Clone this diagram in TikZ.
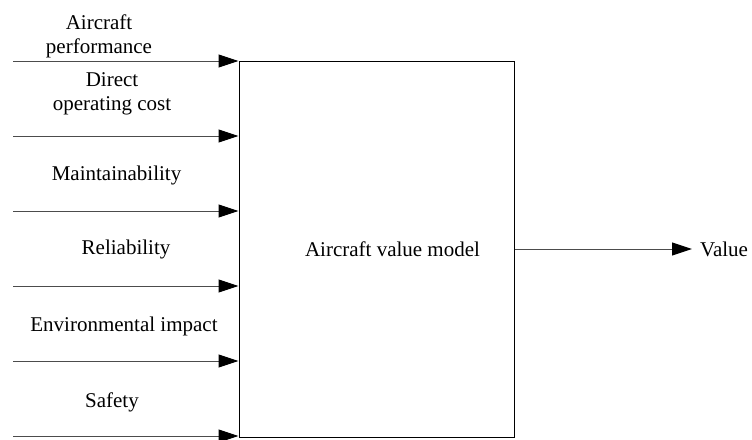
\documentclass[tikz,border=0pt]{standalone}
\usepackage{fontspec}
\setmainfont{Liberation Serif}
\usetikzlibrary{arrows.meta}
\tikzset{
	flow/.style={draw=black!70, line width=1pt, -{Triangle[length=20pt, width=13pt, color=black]}},
	lbl/.style={font=\fontsize{21}{24}\selectfont, align=center, inner sep=0pt},
}

\begin{document}
\begin{tikzpicture}[x=1pt, y=-1pt]
				\useasboundingbox (0,0) rectangle (752,439);
				\node[draw, line width=1pt, minimum width=275pt, minimum height=376pt, inner sep=0pt, label={[lbl, xshift=16pt]center:Aircraft value model}] (model)at(376.5, 249) {};
				\coordinate (perfin)at(13, 61);
				\coordinate (docin)at(13, 136);
				\coordinate (maintin)at(13, 211);
				\coordinate (relin)at(13, 286);
				\coordinate (envin)at(13, 361);
				\coordinate (safein)at(13, 436);
				\node[lbl, anchor=base] (perf)at(99, 53) {Aircraft\\performance};
				\node[lbl, anchor=base] (doc)at(112, 110) {Direct\\operating cost};
				\node[lbl, anchor=base] (maint)at(116.5, 180) {Maintainability};
				\node[lbl, anchor=base] (rel)at(126, 254) {Reliability};
				\node[lbl, anchor=base] (env)at(124, 331) {Environmental impact};
				\node[lbl, anchor=base] (safe)at(112, 407) {Safety};
				\node[lbl, anchor=west, inner xsep=8pt] (value)at(692, 249) {Value};
				\draw[flow] (perfin) -- (perfin -| model.west);
				\draw[flow] (docin) -- (docin -| model.west);
				\draw[flow] (maintin) -- (maintin -| model.west);
				\draw[flow] (relin) -- (relin -| model.west);
				\draw[flow] (envin) -- (envin -| model.west);
				\draw[flow] (safein) -- (safein -| model.west);
				\draw[flow] (model.east) -- (value.west);
			\end{tikzpicture}
\end{document}
